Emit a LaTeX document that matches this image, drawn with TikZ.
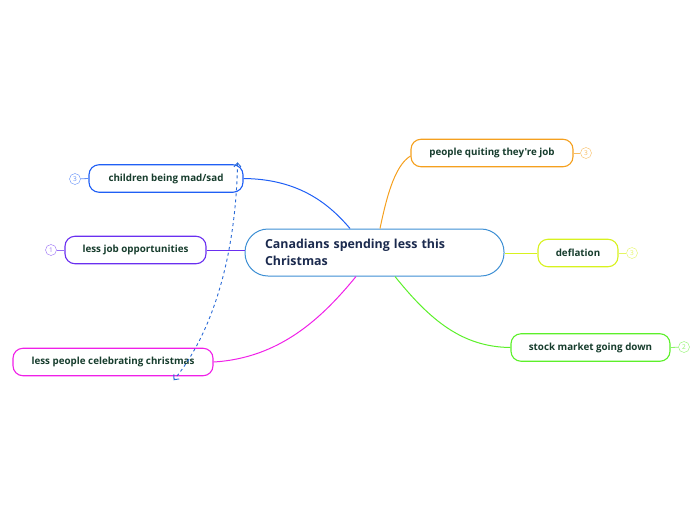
\documentclass[tikz,border=0pt]{standalone}
\usepackage{fontspec}
\setmainfont{Open Sans}[Ligatures=TeXOff]
\usetikzlibrary{arrows.meta}

\definecolor{hubline}{HTML}{3D8FD4}
\definecolor{hubtext}{HTML}{1B2A4E}
\definecolor{leaftext}{HTML}{173D2D}
\definecolor{kidsc}{HTML}{1F5FF5}
\definecolor{jobsc}{HTML}{6A2FF0}
\definecolor{partyc}{HTML}{F020E8}
\definecolor{quitc}{HTML}{F5A01E}
\definecolor{deflc}{HTML}{D8F21E}
\definecolor{stockc}{HTML}{5CF02A}
\definecolor{linkc}{HTML}{2A6AD6}

\begin{document}
\begin{tikzpicture}[
        x=1pt, y=-1pt,
        hub/.style={draw=hubline, line width=1pt, fill=white, rounded corners=23pt,
            minimum width=259pt, minimum height=47pt, text width=219pt, align=left,
            inner xsep=20pt, text=hubtext, font=\bfseries\fontsize{12.4}{17}\selectfont},
        topic/.style={draw=#1, line width=1.1pt, fill=white, rounded corners=10pt,
            minimum height=27.5pt, inner xsep=2pt, text=leaftext,
            font=\bfseries\fontsize{9.8}{11}\selectfont},
        badge/.style={draw=#1!70!white, text=#1!70!white, circle, inner sep=0pt,
            minimum size=11pt, fill=white, font=\fontsize{6.5}{7}\selectfont},
        branch/.style={draw=#1, line width=1pt},
    ]
    \useasboundingbox (0,0) rectangle (696,520);

    % central idea
    \node[hub] (hub) at (374.5,252.5) {Canadians spending less this\\Christmas};

    % left side
    \node[topic=kidsc, minimum width=154pt] (kids) at (166,178.5) {children being mad/sad};
    \node[topic=jobsc, minimum width=141pt] (jobs) at (135.5,250) {less job opportunities};
    \node[topic=partyc, minimum width=200pt] (party) at (113,362) {less people celebrating christmas};

    % right side
    \node[topic=quitc, minimum width=162pt] (quit) at (492,153) {people quiting they're job};
    \node[topic=deflc, minimum width=80pt] (defl) at (578,253) {deflation};
    \node[topic=stockc, minimum width=159pt] (stock) at (590.5,347.5) {stock market going down};

    % markers
    \node[badge=kidsc] (kidsnum) at (75,179) {3};
    \node[badge=jobsc] (jobsnum) at (51,250) {1};
    \node[badge=quitc] (quitnum) at (586,153) {3};
    \node[badge=deflc] (deflnum) at (632,253) {3};
    \node[badge=stockc] (stocknum) at (684,347) {2};

    \draw[kidsc!70!white, line width=0.8pt] (kidsnum) -- (kids.west);
    \draw[jobsc!70!white, line width=0.8pt] (jobsnum) -- (jobs.west);
    \draw[quitc!70!white, line width=0.8pt] (quit.east) -- (quitnum);
    \draw[deflc!70!white, line width=0.8pt] (defl.east) -- (deflnum);
    \draw[stockc!70!white, line width=0.8pt] (stock.east) -- (stocknum);

    % branches
    \draw[branch=kidsc] (kids.east) .. controls (300,179) and (330,205) .. ([xshift=-24.5pt]hub.north);
    \draw[branch=jobsc] (jobs.east) -- (hub.west |- jobs.east);
    \draw[branch=partyc] (party.east) .. controls (280,358) and (322,318) .. ([xshift=-18.5pt]hub.south);
    \draw[branch=quitc] ([yshift=-3pt]quit.west) .. controls (394,166) and (386,200) .. ([xshift=5.5pt]hub.north);
    \draw[branch=deflc, line width=0.7pt] (hub.east |- defl.west) -- (defl.west);
    \draw[branch=stockc] ([xshift=20.5pt]hub.south) .. controls (430,320) and (462,347) .. (stock.west);

    % relationship
    \draw[linkc, line width=0.9pt, dashed, {Straight Barb[length=4pt,width=7pt]}-{Straight Barb[length=4pt,width=7pt]}]
        ([xshift=-6pt,yshift=2pt]kids.north east) .. controls (236,250) and (215,330) .. ([xshift=-40pt,yshift=-4pt]party.south east);
\end{tikzpicture}
\end{document}
